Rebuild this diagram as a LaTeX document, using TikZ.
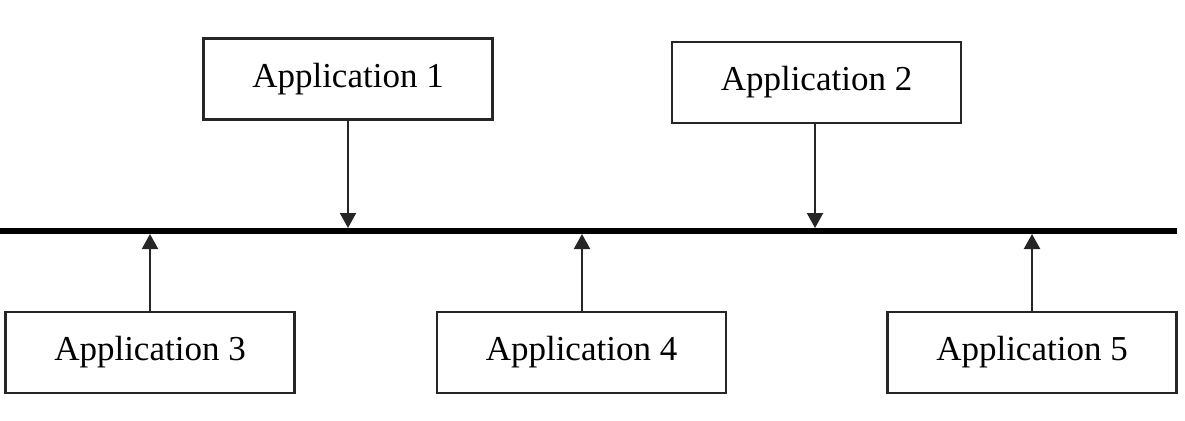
\documentclass[tikz,border=0pt]{standalone}
\usepackage{fontspec}
\setmainfont{Liberation Serif}
\usetikzlibrary{arrows.meta}
\begin{document}
\begin{tikzpicture}[x=1pt,y=-1pt,
  appbox/.style={draw=black!85,line width=2.4pt,minimum width=289pt,minimum height=81pt,inner sep=0pt,font=\fontsize{35}{40}\selectfont},
  conn/.style={draw=black!85,line width=2.2pt,-{Triangle[length=15pt,width=16pt]}}]
\useasboundingbox (0,0) rectangle (1185,420);
\node[appbox] (a1) at (348,79) {\raisebox{2pt}{Application 1}};
\node[appbox] (a2) at (816.5,82.5) {\raisebox{2pt}{Application 2}};
\node[appbox] (a3) at (150,352.5) {\raisebox{2pt}{Application 3}};
\node[appbox] (a4) at (581.5,352.5) {\raisebox{2pt}{Application 4}};
\node[appbox] (a5) at (1032,352.5) {\raisebox{2pt}{Application 5}};
\coordinate (bl) at (0,231);
\coordinate (br) at (1177,231);
\draw[line width=6.5pt] (bl) -- (br);
\coordinate (t1) at (348,228);
\coordinate (t2) at (815,228);
\coordinate (t3) at (150,234);
\coordinate (t4) at (582,234);
\coordinate (t5) at (1032,234);
\draw[conn] (a1.south) -- (t1);
\draw[conn] (a2.south -| t2) -- (t2);
\draw[conn] (a3.north) -- (t3);
\draw[conn] (a4.north -| t4) -- (t4);
\draw[conn] (a5.north) -- (t5);
\end{tikzpicture}
\end{document}
